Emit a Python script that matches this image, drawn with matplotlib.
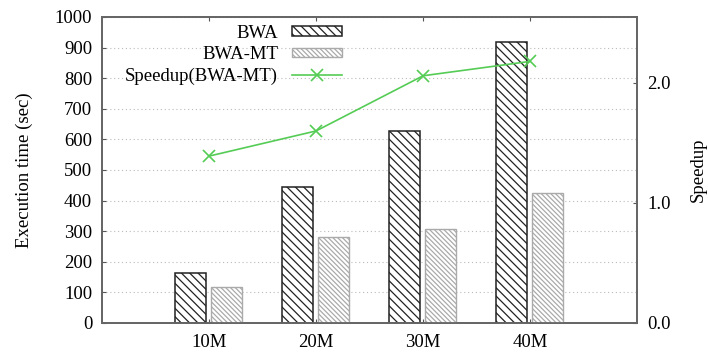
import matplotlib
matplotlib.use("Agg")
import matplotlib.pyplot as plt
import numpy as np

categories = ["10M", "20M", "30M", "40M"]
bwa = [163, 443, 628, 917]
bwa_mt = [117, 281, 306, 425]
speedup = [1.39, 1.60, 2.06, 2.18]

plt.rcParams['font.family'] = ['Liberation Serif', 'DejaVu Serif']
plt.rcParams['hatch.linewidth'] = 0.9

FS = 13.5

fig = plt.figure(figsize=(7.08, 3.54), dpi=100)
ax = fig.add_axes([0.144, 0.088, 0.756, 0.864])
x = np.arange(1, len(categories) + 1)
w = 0.29

ax.bar(x - 0.175, bwa, w, facecolor='white', edgecolor='#222222', hatch='\\\\\\\\',
       linewidth=1.1, label='BWA', zorder=3)
ax.bar(x + 0.16, bwa_mt, w, facecolor='white', edgecolor='#aaaaaa', hatch='\\\\\\\\\\\\\\',
       linewidth=1.0, label='BWA-MT', zorder=3)

ax.set_xlim(0, 5)
ax.set_ylim(0, 1000)
ax.set_yticks(np.arange(0, 1001, 100))
ax.set_xticks(x)
ax.set_xticklabels(categories)
ax.set_ylabel('Execution time (sec)', fontsize=FS)
ax.yaxis.set_label_coords(-0.129, 0.5)
ax.grid(axis='y', linestyle=(0, (1, 2.5)), color='#bbbbbb', linewidth=0.8, zorder=0)
ax.tick_params(direction='in', length=3, labelsize=FS, pad=8, color='#555555', top=True)
ax.tick_params(axis='y', pad=7)
for s in ax.spines.values():
    s.set_color('#666666')
    s.set_linewidth(1.3)

ax2 = ax.twinx()
ax2.plot(x, speedup, color='#55cc55', marker='x', markersize=9, markeredgewidth=1.2,
         linewidth=1.2, label='Speedup(BWA-MT)', zorder=4)
ax2.set_ylim(0, 2.55)
ax2.set_yticks([0, 1, 2])
ax2.set_yticklabels(['0.0', '1.0', '2.0'])
ax2.set_ylabel('Speedup', fontsize=FS)
ax2.yaxis.set_label_coords(1.098, 0.5)
ax2.tick_params(direction='in', length=3, labelsize=FS, pad=7, color='#555555')
for s in ax2.spines.values():
    s.set_color('#666666')
    s.set_linewidth(1.3)

h1, l1 = ax.get_legend_handles_labels()
h2, l2 = ax2.get_legend_handles_labels()
leg = ax2.legend(h1 + h2, l1 + l2, loc='upper right', bbox_to_anchor=(0.449, 0.975),
                 markerfirst=False, frameon=False, fontsize=FS, handlelength=2.7,
                 handleheight=0.42, labelspacing=0.24, handletextpad=0.72,
                 borderpad=0, borderaxespad=0)

fig.savefig('out.png', dpi=100)
